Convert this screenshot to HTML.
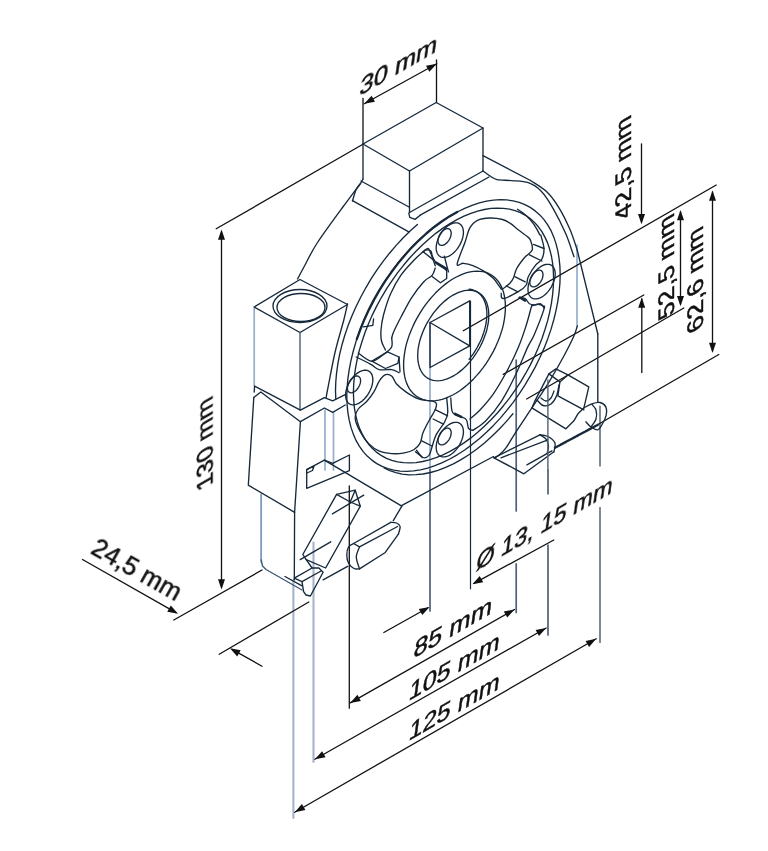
<!DOCTYPE html>
<html><head><meta charset="utf-8"><title>drawing</title>
<style>html,body{margin:0;padding:0;background:#fff}svg{display:block}
text{font-family:"Liberation Sans",sans-serif;text-rendering:geometricPrecision}
path{stroke-linecap:round;stroke-linejoin:round}</style></head>
<body><svg width="768" height="851" viewBox="0 0 768 851">
<rect width="768" height="851" fill="#fff"/>
<path d="M430.0,322.5 L430.0,470.0" stroke="#94aecb" stroke-width="1.7" fill="none"/>
<path d="M430.0,470.0 L430.0,611.0" stroke="#4f6078" stroke-width="1.7" fill="none"/>
<path d="M516.2,360.0 L516.2,511.0" stroke="#4f6078" stroke-width="1.7" fill="none"/>
<path d="M516.2,563.8 L516.2,612.5" stroke="#4f6078" stroke-width="1.7" fill="none"/>
<path d="M548.0,470.0 L548.0,493.8" stroke="#4f6078" stroke-width="1.7" fill="none"/>
<path d="M548.0,545.0 L548.0,635.0" stroke="#4f6078" stroke-width="1.7" fill="none"/>
<path d="M313.5,542.5 L313.5,762.0" stroke="#a7b3cb" stroke-width="2.1" fill="none"/>
<path d="M293.4,580.0 L293.4,818.0" stroke="#a7b3cb" stroke-width="2.1" fill="none"/>
<path d="M325.0,410.0 L325.0,470.0" stroke="#94aecb" stroke-width="1.7" fill="none"/>
<path d="M333.5,413.0 L333.5,470.0" stroke="#94aecb" stroke-width="1.7" fill="none"/>
<path d="M261.2,493.8 L261.2,562.5" stroke="#94aecb" stroke-width="1.7" fill="none"/>
<path d="M577.0,245.0 L577.0,326.0" stroke="#94aecb" stroke-width="1.7" fill="none"/>
<path d="M254.2,307.0 L254.2,385.5" stroke="#94aecb" stroke-width="1.7" fill="none"/>
<path d="M363.0,144.0 L363.0,98.5" stroke="#111" stroke-width="1.3" fill="none"/>
<path d="M436.5,102.5 L436.5,60.0" stroke="#111" stroke-width="1.3" fill="none"/>
<path d="M364.2,103.8 L436.8,63.8" stroke="#111" stroke-width="1.3" fill="none"/>
<path d="M364.2,103.8 L371.6,95.7 L375.0,101.8 Z" fill="#111" stroke="none"/>
<path d="M436.8,63.8 L429.4,71.8 L426.0,65.7 Z" fill="#111" stroke="none"/>
<path d="M216.2,228.8 L363.8,143.8" stroke="#111" stroke-width="1.3" fill="none"/>
<path d="M221.5,232.0 L221.5,587.0" stroke="#111" stroke-width="1.3" fill="none"/>
<path d="M221.5,229.5 L225.0,239.8 L218.0,239.8 Z" fill="#111" stroke="none"/>
<path d="M221.5,589.5 L218.0,579.2 L225.0,579.2 Z" fill="#111" stroke="none"/>
<path d="M173.8,620.0 L262.0,570.0" stroke="#111" stroke-width="1.3" fill="none"/>
<path d="M82.5,559.5 L176.0,612.6" stroke="#111" stroke-width="1.3" fill="none"/>
<path d="M178.0,613.8 L167.3,611.7 L170.8,605.6 Z" fill="#111" stroke="none"/>
<path d="M219.2,654.2 L308.8,602.0" stroke="#111" stroke-width="1.3" fill="none"/>
<path d="M232.0,649.4 L262.0,666.2" stroke="#111" stroke-width="1.3" fill="none"/>
<path d="M230.0,648.2 L240.7,650.3 L237.2,656.4 Z" fill="#111" stroke="none"/>
<path d="M383.8,632.5 L428.0,607.8" stroke="#111" stroke-width="1.3" fill="none"/>
<path d="M429.5,607.0 L422.3,615.1 L418.8,609.0 Z" fill="#111" stroke="none"/>
<path d="M553.8,540.0 L474.0,583.4" stroke="#111" stroke-width="1.3" fill="none"/>
<path d="M472.5,584.2 L479.7,576.1 L483.2,582.2 Z" fill="#111" stroke="none"/>
<path d="M470.5,301.0 L470.5,588.8" stroke="#16293b" stroke-width="1.2" fill="none"/>
<path d="M349.3,486.0 L349.3,708.2" stroke="#111" stroke-width="1.3" fill="none"/>
<path d="M350.2,702.9 L514.5,609.5" stroke="#111" stroke-width="1.3" fill="none"/>
<path d="M350.2,702.9 L357.4,694.8 L360.9,700.9 Z" fill="#111" stroke="none"/>
<path d="M514.5,609.5 L507.3,617.6 L503.8,611.5 Z" fill="#111" stroke="none"/>
<path d="M314.9,759.3 L546.2,628.0" stroke="#111" stroke-width="1.3" fill="none"/>
<path d="M314.9,759.3 L322.1,751.2 L325.6,757.3 Z" fill="#111" stroke="none"/>
<path d="M546.2,628.0 L539.0,636.1 L535.6,630.0 Z" fill="#111" stroke="none"/>
<path d="M294.7,812.2 L596.2,638.8" stroke="#111" stroke-width="1.3" fill="none"/>
<path d="M294.7,812.2 L301.9,804.0 L305.4,810.1 Z" fill="#111" stroke="none"/>
<path d="M596.2,638.8 L589.1,646.9 L585.6,640.9 Z" fill="#111" stroke="none"/>
<path d="M600.0,406.0 L600.0,466.0" stroke="#16293b" stroke-width="1.1" fill="none"/>
<path d="M600.0,507.5 L600.0,642.5" stroke="#16293b" stroke-width="1.1" fill="none"/>
<path d="M641.5,143.8 L641.5,222.0" stroke="#111" stroke-width="1.3" fill="none"/>
<path d="M641.5,224.2 L638.0,213.9 L645.0,213.9 Z" fill="#111" stroke="none"/>
<path d="M463.3,330.8 L716.2,185.0" stroke="#111" stroke-width="1.3" fill="none"/>
<path d="M680.5,212.0 L680.5,304.0" stroke="#111" stroke-width="1.3" fill="none"/>
<path d="M680.5,210.0 L684.0,220.3 L677.0,220.3 Z" fill="#111" stroke="none"/>
<path d="M680.5,306.2 L677.0,295.9 L684.0,295.9 Z" fill="#111" stroke="none"/>
<path d="M712.5,192.0 L712.5,351.0" stroke="#111" stroke-width="1.3" fill="none"/>
<path d="M712.5,190.5 L716.0,200.8 L709.0,200.8 Z" fill="#111" stroke="none"/>
<path d="M712.5,353.0 L709.0,342.7 L716.0,342.7 Z" fill="#111" stroke="none"/>
<path d="M503.3,374.4 L643.8,295.0" stroke="#111" stroke-width="1.3" fill="none"/>
<path d="M641.8,299.0 L641.8,372.5" stroke="#111" stroke-width="1.3" fill="none"/>
<path d="M641.8,297.5 L645.2,307.8 L638.2,307.8 Z" fill="#111" stroke="none"/>
<path d="M526.7,399.0 L683.8,308.0" stroke="#111" stroke-width="1.3" fill="none"/>
<path d="M598.0,424.5 L718.8,354.5" stroke="#111" stroke-width="1.3" fill="none"/>
<path d="M554.9,447.8 L597.8,424.8" stroke="#16293b" stroke-width="2.4" stroke-dasharray="1.1,1.1" stroke-linecap="butt" fill="none"/>
<path d="M363.0,144.0 L436.2,102.5 L483.0,128.0 L409.5,171.0 Z" stroke="#16293b" stroke-width="1.35" fill="none" />
<path d="M363.0,144.0 L363.0,179.0" stroke="#16293b" stroke-width="1.35" fill="none"/>
<path d="M409.5,171.0 L409.5,212.5" stroke="#16293b" stroke-width="1.35" fill="none"/>
<path d="M483.0,128.0 L483.0,171.0" stroke="#16293b" stroke-width="1.35" fill="none"/>
<path d="M409.5,212.5 L483.0,171.0" stroke="#16293b" stroke-width="1.35" fill="none"/>
<path d="M420.2,215.2 L489.0,177.0" stroke="#16293b" stroke-width="1.35" fill="none"/>
<path d="M363.0,179.0 L361.0,182.5" stroke="#16293b" stroke-width="1.35" fill="none" />
<path d="M361.0,181.0 L409.0,207.0" stroke="#16293b" stroke-width="1.35" fill="none"/>
<path d="M352.5,200.6 L408.8,231.9" stroke="#16293b" stroke-width="1.35" fill="none"/>
<path d="M408.8,213.1 L409.8,217.3 L415.0,219.4 L420.2,215.2" stroke="#16293b" stroke-width="1.35" fill="none" />
<path d="M361.0,183.0 C360.2,184.2 357.4,187.0 356.0,190.0 C354.6,193.0 353.1,199.2 352.5,201.0" stroke="#16293b" stroke-width="1.35" fill="none"/>
<path d="M360.0,184.0 C357.1,187.9 349.6,197.8 342.5,207.5 C335.4,217.2 323.8,232.9 317.5,242.5 C311.2,252.1 308.3,258.9 305.0,265.0 C301.7,271.1 298.8,276.7 297.5,279.0" stroke="#16293b" stroke-width="1.35" fill="none"/>
<path d="M483.0,155.6 L530.5,180.5" stroke="#16293b" stroke-width="1.35" fill="none"/>
<path d="M530.5,180.5 C533.2,182.4 542.1,187.3 547.0,192.0 C551.9,196.7 555.8,202.5 559.6,208.8 C563.4,215.0 567.0,222.7 570.0,229.6 C573.0,236.5 576.1,246.9 577.3,250.4" stroke="#16293b" stroke-width="1.35" fill="none"/>
<path d="M577.3,250.4 L597.8,334.0" stroke="#16293b" stroke-width="1.35" fill="none"/>
<path d="M597.8,334.0 L597.8,402.0" stroke="#16293b" stroke-width="1.35" fill="none"/>
<path d="M483.0,171.0 C484.3,171.9 488.5,175.1 490.8,176.5 C493.1,177.9 493.5,178.9 497.0,179.6 C500.5,180.3 506.5,180.1 511.7,180.6 C516.9,181.1 523.4,181.0 528.3,182.7 C533.2,184.4 536.8,186.7 541.0,191.0 C545.2,195.3 549.2,201.6 553.3,208.8 C557.4,215.9 562.3,225.8 565.8,233.8 C569.2,241.7 572.6,252.9 574.0,256.7" stroke="#16293b" stroke-width="1.35" fill="none"/>
<path d="M560.2,274.8 L559.9,283.4 L559.1,292.3 L557.8,301.3 L556.0,310.6 L553.7,320.0 L551.0,329.4 L547.7,338.9 L544.0,348.4 L539.8,357.8 L535.2,367.1 L530.2,376.2 L524.9,385.1 L519.2,393.8 L513.2,402.3 L506.8,410.3 L500.3,418.1 L493.5,425.4 L486.5,432.3 L479.3,438.7 L472.0,444.6 L464.7,450.0 L457.2,454.8 L449.8,459.0 L442.3,462.7 L435.0,465.7 L427.7,468.1 L420.5,469.8 L413.5,470.9 L406.7,471.3 L400.2,471.1 L393.8,470.2 L387.8,468.6 L382.1,466.4 L376.8,463.6 L371.8,460.1 L367.2,456.1 L363.0,451.4 L359.3,446.2 L356.0,440.4 L353.3,434.1 L351.0,427.4 L349.2,420.2 L347.9,412.6 L347.1,404.6 L346.8,396.2 L347.1,387.6 L347.9,378.7 L349.2,369.7 L351.0,360.4 L353.3,351.0 L356.0,341.6 L359.3,332.1 L363.0,322.6 L367.2,313.2 L371.8,303.9 L376.8,294.8 L382.1,285.9 L387.8,277.2 L393.8,268.7 L400.2,260.7 L406.7,252.9 L413.5,245.6 L420.5,238.7 L427.7,232.3 L435.0,226.4 L442.3,221.0 L449.8,216.2 L457.2,212.0 L464.7,208.3 L472.0,205.3 L479.3,202.9 L486.5,201.2 L493.5,200.1 L500.3,199.7 L506.8,199.9 L513.2,200.8 L519.2,202.4 L524.9,204.6 L530.2,207.4 L535.2,210.9 L539.8,214.9 L544.0,219.6 L547.7,224.8 L551.0,230.6 L553.7,236.9 L556.0,243.6 L557.8,250.8 L559.1,258.4 L559.9,266.4 L560.2,274.7 Z" stroke="#16293b" stroke-width="1.35" fill="none" />
<path d="M356.8,339.2 L360.4,329.3 L364.4,319.4 L368.9,309.6 L373.9,299.9 L379.3,290.4 L385.1,281.2 L391.3,272.3 L397.8,263.6 L404.6,255.4 L411.6,247.6 L418.9,240.3 L426.3,233.5 L433.9,227.2 L441.7,221.5 L449.4,216.4 L457.2,212.0" stroke="#16293b" stroke-width="2.3" fill="none" />
<path d="M363.4,326.9 L372.8,325.3 L373.6,319.0" stroke="#16293b" stroke-width="1.35" fill="none" />
<path d="M553.6,278.5 L553.3,286.6 L552.6,294.9 L551.4,303.4 L549.7,312.1 L547.6,320.9 L544.9,329.8 L541.9,338.7 L538.4,347.6 L534.5,356.4 L530.2,365.1 L525.5,373.7 L520.5,382.1 L515.1,390.2 L509.5,398.1 L503.5,405.7 L497.4,413.0 L491.0,419.8 L484.4,426.3 L477.7,432.3 L470.9,437.9 L464.0,442.9 L457.0,447.4 L450.0,451.4 L443.0,454.8 L436.1,457.7 L429.3,459.9 L422.6,461.5 L416.0,462.6 L409.6,462.9 L403.5,462.7 L397.5,461.9 L391.9,460.4 L386.5,458.4 L381.5,455.7 L376.8,452.4 L372.5,448.6 L368.6,444.2 L365.1,439.3 L362.1,433.9 L359.4,428.1 L357.3,421.7 L355.6,415.0 L354.4,407.8 L353.7,400.3 L353.4,392.5 L353.7,384.4 L354.4,376.1 L355.6,367.6 L357.3,358.9 L359.4,350.1 L362.1,341.2 L365.1,332.3 L368.6,323.4 L372.5,314.6 L376.8,305.9 L381.5,297.3 L386.5,288.9 L391.9,280.8 L397.5,272.9 L403.5,265.3 L409.6,258.0 L416.0,251.2 L422.6,244.7 L429.3,238.7 L436.1,233.1 L443.0,228.1 L450.0,223.6 L457.0,219.6 L464.0,216.2 L470.9,213.3 L477.7,211.1 L484.4,209.5 L491.0,208.4 L497.4,208.1 L503.5,208.3 L509.5,209.1 L515.1,210.6 L520.5,212.6 L525.5,215.3 L530.2,218.6 L534.5,222.4 L538.4,226.8 L541.9,231.7 L544.9,237.1 L547.6,242.9 L549.7,249.3 L551.4,256.0 L552.6,263.2 L553.3,270.7 L553.6,278.5 Z" stroke="#16293b" stroke-width="1.35" fill="none" />
<path d="M335.8,398.9 L335.5,390.5 L335.8,381.8 L336.6,372.8 L337.9,363.6 L339.7,354.2 L342.0,344.7 L344.8,335.2 L348.1,325.6 L351.9,316.0 L356.1,306.5 L360.8,297.0 L365.8,287.8 L371.2,278.7 L377.0,269.9 L383.1,261.4 L389.5,253.2 L396.2,245.4 L403.0,238.0 L410.1,231.0 L417.4,224.5" stroke="#16293b" stroke-width="1.35" fill="none" />
<path d="M517.5,209.3 L522.1,212.3 L526.4,215.8 L530.3,219.8 L533.9,224.4 L537.0,229.4 L539.8,234.9" stroke="#16293b" stroke-width="1.35" fill="none" />
<path d="M531.6,305.9 C532.7,305.6 536.1,304.3 538.0,304.3 C539.9,304.3 542.0,305.1 543.0,306.0 C544.0,306.9 545.4,304.5 543.9,309.4 C542.4,314.3 536.7,328.9 534.0,335.2 C531.3,341.4 530.8,340.4 527.8,346.9 C524.8,353.4 520.4,364.9 516.0,374.0 C511.6,383.1 506.3,393.8 501.2,401.6 C496.2,409.4 490.4,416.2 485.6,421.0 C480.8,425.8 474.9,428.8 472.7,430.4" stroke="#16293b" stroke-width="1.35" fill="none"/>
<path d="M435.2,268.1 C434.7,269.3 434.0,273.1 432.1,275.4 C430.2,277.7 427.2,277.9 423.8,281.7 C420.3,285.5 415.0,292.4 411.2,298.3 C407.5,304.2 403.9,311.6 401.0,317.0 C398.1,322.4 395.6,327.5 394.0,331.0 C392.4,334.5 392.1,336.8 391.7,338.0" stroke="#16293b" stroke-width="1.35" fill="none"/>
<path d="M531.6,305.9 C530.7,309.2 528.2,319.2 526.0,326.0 C523.8,332.8 521.7,339.4 518.5,346.9 C515.3,354.4 511.2,363.2 507.0,371.0 C502.8,378.8 497.9,387.2 493.4,393.8 C488.9,400.2 483.9,405.8 480.0,410.0 C476.1,414.2 471.7,417.5 470.0,419.0" stroke="#16293b" stroke-width="1.35" fill="none"/>
<path d="M505.4,307.0 L505.3,311.1 L504.9,315.4 L504.3,319.7 L503.5,324.1 L502.4,328.6 L501.0,333.1 L499.5,337.6 L497.7,342.1 L495.7,346.6 L493.5,351.1 L491.1,355.4 L488.6,359.7 L485.9,363.9 L483.0,367.9 L480.0,371.7 L476.8,375.4 L473.6,378.9 L470.2,382.2 L466.8,385.3 L463.3,388.1 L459.8,390.7 L456.3,393.0 L452.7,395.0 L449.2,396.7 L445.7,398.2 L442.2,399.3 L438.8,400.1 L435.4,400.6 L432.2,400.8 L429.0,400.7 L426.0,400.3 L423.1,399.6 L420.4,398.5 L417.9,397.2 L415.5,395.5 L413.3,393.6 L411.3,391.3 L409.5,388.8 L408.0,386.1 L406.6,383.1 L405.5,379.9 L404.7,376.4 L404.1,372.8 L403.7,369.0 L403.6,365.0 L403.7,360.9 L404.1,356.6 L404.7,352.3 L405.5,347.9 L406.6,343.4 L408.0,338.9 L409.5,334.4 L411.3,329.9 L413.3,325.4 L415.5,320.9 L417.9,316.6 L420.4,312.3 L423.1,308.1 L426.0,304.1 L429.0,300.3 L432.2,296.6 L435.4,293.1 L438.8,289.8 L442.2,286.7 L445.7,283.9 L449.2,281.3 L452.7,279.0 L456.3,277.0 L459.8,275.3 L463.3,273.8 L466.8,272.7 L470.2,271.9 L473.6,271.4 L476.8,271.2 L480.0,271.3 L483.0,271.7 L485.9,272.4 L488.6,273.5 L491.1,274.8 L493.5,276.5 L495.7,278.4 L497.7,280.7 L499.5,283.2 L501.0,285.9 L502.4,288.9 L503.5,292.1 L504.3,295.6 L504.9,299.2 L505.3,303.0 L505.4,307.0 Z" stroke="#16293b" stroke-width="1.35" fill="none" />
<path d="M488.8,315.2 L488.7,318.1 L488.5,321.1 L488.0,324.1 L487.4,327.2 L486.7,330.3 L485.7,333.5 L484.6,336.6 L483.4,339.8 L482.0,342.9 L480.5,346.0 L478.8,349.1 L477.0,352.0 L475.1,354.9 L473.1,357.8 L471.0,360.4 L468.8,363.0 L466.6,365.5 L464.2,367.8 L461.9,369.9 L459.4,371.9 L457.0,373.7 L454.5,375.3 L452.0,376.7 L449.5,377.9 L447.1,378.9 L444.6,379.7 L442.3,380.3 L439.9,380.6 L437.7,380.8 L435.5,380.7 L433.4,380.4 L431.4,379.9 L429.5,379.1 L427.7,378.2 L426.0,377.0 L424.5,375.7 L423.1,374.1 L421.9,372.4 L420.8,370.5 L419.8,368.4 L419.1,366.1 L418.5,363.7 L418.0,361.2 L417.8,358.5 L417.7,355.8 L417.8,352.9 L418.0,349.9 L418.5,346.9 L419.1,343.8 L419.8,340.7 L420.8,337.5 L421.9,334.4 L423.1,331.2 L424.5,328.1 L426.0,325.0 L427.7,321.9 L429.5,319.0 L431.4,316.1 L433.4,313.2 L435.5,310.6 L437.7,308.0 L439.9,305.5 L442.3,303.2 L444.6,301.1 L447.1,299.1 L449.5,297.3 L452.0,295.7 L454.5,294.3 L457.0,293.1 L459.4,292.1 L461.9,291.3 L464.2,290.7 L466.6,290.4 L468.8,290.2 L471.0,290.3 L473.1,290.6 L475.1,291.1 L477.0,291.9 L478.8,292.8 L480.5,294.0 L482.0,295.3 L483.4,296.9 L484.6,298.6 L485.7,300.5 L486.7,302.6 L487.4,304.9 L488.0,307.3 L488.5,309.8 L488.7,312.5 L488.8,315.2 Z" stroke="#16293b" stroke-width="1.35" fill="none" />
<path d="M469.1,289.2 L471.2,289.5 L473.2,290.0 L475.1,290.8 L476.9,291.7 L478.5,292.9 L480.1,294.2 L481.5,295.8 L482.7,297.5 L483.8,299.4 L484.7,301.5 L485.5,303.8 L486.1,306.2 L486.5,308.7 L486.8,311.4 L486.9,314.1 L486.8,317.0 L486.5,320.0 L486.1,323.0 L485.5,326.1 L484.7,329.2 L483.8,332.4 L482.7,335.5 L481.5,338.7 L480.1,341.8 L478.5,344.9 L476.9,348.0 L475.1,350.9 L473.2,353.8 L471.2,356.7 L469.1,359.3" stroke="#16293b" stroke-width="1.35" fill="none" />
<path d="M430.0,322.5 L469.7,300.8 L469.7,345.8 L430.0,367.5 Z" stroke="#16293b" stroke-width="1.35" fill="none" />
<path d="M430.0,322.5 L469.7,345.8" stroke="#16293b" stroke-width="1.35" fill="none"/>
<path d="M300.0,279.5 L254.2,307.0 L300.0,332.5 L347.5,304.5 Z" stroke="#16293b" stroke-width="1.35" fill="none" />
<path d="M300.0,332.5 L300.0,410.0" stroke="#3d5874" stroke-width="1.35" fill="none"/>
<ellipse cx="300" cy="306" rx="27" ry="16.5" stroke="#16293b" stroke-width="1.35" fill="none"/>
<ellipse cx="301" cy="307.5" rx="24" ry="14" stroke="#16293b" stroke-width="1.35" fill="none"/>
<path d="M347.5,303.8 C346.9,306.5 345.8,311.9 343.8,320.0 C341.7,328.1 337.7,340.8 335.0,352.5 C332.3,364.2 329.0,382.5 327.5,390.0 C326.0,397.5 326.5,396.2 326.2,397.5" stroke="#16293b" stroke-width="1.35" fill="none"/>
<path d="M463.4,232.3 L463.4,233.5 L463.3,234.6 L463.1,235.7 L462.9,236.9 L462.6,238.1 L462.2,239.3 L461.8,240.5 L461.3,241.7 L460.8,242.9 L460.2,244.1 L459.6,245.3 L458.9,246.4 L458.2,247.5 L457.4,248.6 L456.6,249.6 L455.8,250.6 L454.9,251.6 L454.0,252.4 L453.1,253.3 L452.2,254.0 L451.2,254.7 L450.3,255.3 L449.3,255.9 L448.4,256.3 L447.4,256.7 L446.5,257.0 L445.6,257.2 L444.7,257.4 L443.8,257.4 L443.0,257.4 L442.2,257.3 L441.4,257.1 L440.7,256.8 L440.0,256.4 L439.4,256.0 L438.8,255.5 L438.3,254.9 L437.8,254.2 L437.4,253.5 L437.0,252.7 L436.7,251.8 L436.5,250.9 L436.3,249.9 L436.2,248.9 L436.2,247.8 L436.2,246.7 L436.3,245.6 L436.5,244.5 L436.7,243.3 L437.0,242.1 L437.4,240.9 L437.8,239.7 L438.3,238.5 L438.8,237.3 L439.4,236.1 L440.0,234.9 L440.7,233.8 L441.4,232.7 L442.2,231.6 L443.0,230.6 L443.8,229.6 L444.7,228.6 L445.6,227.8 L446.5,226.9 L447.4,226.2 L448.4,225.5 L449.3,224.9 L450.3,224.3 L451.2,223.9 L452.2,223.5 L453.1,223.2 L454.0,223.0 L454.9,222.8 L455.8,222.8 L456.6,222.8 L457.4,222.9 L458.2,223.1 L458.9,223.4 L459.6,223.8 L460.2,224.2 L460.8,224.7 L461.3,225.3 L461.8,226.0 L462.2,226.7 L462.6,227.5 L462.9,228.4 L463.1,229.3 L463.3,230.3 L463.4,231.3 L463.4,232.3 Z" stroke="#16293b" stroke-width="1.35" fill="none" />
<path d="M451.2,233.2 L451.2,233.8 L451.1,234.3 L451.0,234.9 L450.9,235.5 L450.8,236.0 L450.6,236.6 L450.4,237.2 L450.2,237.8 L449.9,238.4 L449.6,238.9 L449.3,239.5 L449.0,240.1 L448.7,240.6 L448.3,241.1 L447.9,241.6 L447.5,242.1 L447.1,242.5 L446.6,243.0 L446.2,243.4 L445.7,243.7 L445.3,244.1 L444.8,244.4 L444.4,244.6 L443.9,244.9 L443.5,245.0 L443.0,245.2 L442.6,245.3 L442.1,245.4 L441.7,245.4 L441.3,245.4 L440.9,245.3 L440.5,245.2 L440.2,245.1 L439.9,244.9 L439.6,244.7 L439.3,244.4 L439.0,244.2 L438.8,243.8 L438.6,243.5 L438.4,243.1 L438.3,242.7 L438.2,242.2 L438.1,241.8 L438.0,241.3 L438.0,240.8 L438.0,240.2 L438.1,239.7 L438.2,239.1 L438.3,238.5 L438.4,238.0 L438.6,237.4 L438.8,236.8 L439.0,236.2 L439.3,235.6 L439.6,235.1 L439.9,234.5 L440.2,233.9 L440.5,233.4 L440.9,232.9 L441.3,232.4 L441.7,231.9 L442.1,231.5 L442.6,231.0 L443.0,230.6 L443.5,230.3 L443.9,229.9 L444.4,229.6 L444.8,229.4 L445.3,229.1 L445.7,229.0 L446.2,228.8 L446.6,228.7 L447.1,228.6 L447.5,228.6 L447.9,228.6 L448.3,228.7 L448.7,228.8 L449.0,228.9 L449.3,229.1 L449.6,229.3 L449.9,229.6 L450.2,229.8 L450.4,230.2 L450.6,230.5 L450.8,230.9 L450.9,231.3 L451.0,231.8 L451.1,232.2 L451.2,232.7 L451.2,233.2 Z" stroke="#16293b" stroke-width="1.35" fill="none" />
<path d="M555.2,273.9 L555.2,275.0 L555.1,276.1 L554.9,277.2 L554.7,278.4 L554.4,279.6 L554.0,280.8 L553.6,282.0 L553.1,283.2 L552.6,284.4 L552.0,285.6 L551.4,286.8 L550.7,287.9 L550.0,289.0 L549.2,290.1 L548.4,291.1 L547.6,292.1 L546.7,293.1 L545.8,293.9 L544.9,294.8 L544.0,295.5 L543.0,296.2 L542.1,296.8 L541.1,297.4 L540.2,297.8 L539.2,298.2 L538.3,298.5 L537.4,298.7 L536.5,298.9 L535.6,298.9 L534.8,298.9 L534.0,298.8 L533.2,298.6 L532.5,298.3 L531.8,297.9 L531.2,297.5 L530.6,297.0 L530.1,296.4 L529.6,295.7 L529.2,295.0 L528.8,294.2 L528.5,293.3 L528.3,292.4 L528.1,291.4 L528.0,290.4 L528.0,289.4 L528.0,288.2 L528.1,287.1 L528.3,286.0 L528.5,284.8 L528.8,283.6 L529.2,282.4 L529.6,281.2 L530.1,280.0 L530.6,278.8 L531.2,277.6 L531.8,276.4 L532.5,275.3 L533.2,274.2 L534.0,273.1 L534.8,272.1 L535.6,271.1 L536.5,270.1 L537.4,269.3 L538.3,268.4 L539.2,267.7 L540.2,267.0 L541.1,266.4 L542.1,265.8 L543.0,265.4 L544.0,265.0 L544.9,264.7 L545.8,264.5 L546.7,264.3 L547.6,264.3 L548.4,264.3 L549.2,264.4 L550.0,264.6 L550.7,264.9 L551.4,265.3 L552.0,265.7 L552.6,266.2 L553.1,266.8 L553.6,267.5 L554.0,268.2 L554.4,269.0 L554.7,269.9 L554.9,270.8 L555.1,271.8 L555.2,272.8 L555.2,273.9 Z" stroke="#16293b" stroke-width="1.35" fill="none" />
<path d="M543.0,274.8 L543.0,275.3 L542.9,275.8 L542.8,276.4 L542.7,277.0 L542.6,277.5 L542.4,278.1 L542.2,278.7 L542.0,279.3 L541.7,279.9 L541.4,280.4 L541.1,281.0 L540.8,281.6 L540.5,282.1 L540.1,282.6 L539.7,283.1 L539.3,283.6 L538.9,284.0 L538.4,284.5 L538.0,284.9 L537.5,285.2 L537.1,285.6 L536.6,285.9 L536.2,286.1 L535.7,286.4 L535.3,286.5 L534.8,286.7 L534.4,286.8 L533.9,286.9 L533.5,286.9 L533.1,286.9 L532.7,286.8 L532.3,286.7 L532.0,286.6 L531.7,286.4 L531.4,286.2 L531.1,285.9 L530.8,285.7 L530.6,285.3 L530.4,285.0 L530.2,284.6 L530.1,284.2 L530.0,283.7 L529.9,283.3 L529.8,282.8 L529.8,282.2 L529.8,281.7 L529.9,281.2 L530.0,280.6 L530.1,280.0 L530.2,279.5 L530.4,278.9 L530.6,278.3 L530.8,277.7 L531.1,277.1 L531.4,276.6 L531.7,276.0 L532.0,275.4 L532.3,274.9 L532.7,274.4 L533.1,273.9 L533.5,273.4 L533.9,273.0 L534.4,272.5 L534.8,272.1 L535.3,271.8 L535.7,271.4 L536.2,271.1 L536.6,270.9 L537.1,270.6 L537.5,270.5 L538.0,270.3 L538.4,270.2 L538.9,270.1 L539.3,270.1 L539.7,270.1 L540.1,270.2 L540.5,270.3 L540.8,270.4 L541.1,270.6 L541.4,270.8 L541.7,271.1 L542.0,271.3 L542.2,271.7 L542.4,272.0 L542.6,272.4 L542.7,272.8 L542.8,273.3 L542.9,273.7 L543.0,274.2 L543.0,274.8 Z" stroke="#16293b" stroke-width="1.35" fill="none" />
<path d="M463.4,431.9 L463.4,433.0 L463.3,434.1 L463.1,435.2 L462.9,436.4 L462.6,437.6 L462.2,438.8 L461.8,440.0 L461.3,441.2 L460.8,442.4 L460.2,443.6 L459.6,444.8 L458.9,445.9 L458.2,447.0 L457.4,448.1 L456.6,449.1 L455.8,450.1 L454.9,451.1 L454.0,451.9 L453.1,452.8 L452.2,453.5 L451.2,454.2 L450.3,454.8 L449.3,455.4 L448.4,455.8 L447.4,456.2 L446.5,456.5 L445.6,456.7 L444.7,456.9 L443.8,456.9 L443.0,456.9 L442.2,456.8 L441.4,456.6 L440.7,456.3 L440.0,455.9 L439.4,455.5 L438.8,455.0 L438.3,454.4 L437.8,453.7 L437.4,453.0 L437.0,452.2 L436.7,451.3 L436.5,450.4 L436.3,449.4 L436.2,448.4 L436.2,447.4 L436.2,446.2 L436.3,445.1 L436.5,444.0 L436.7,442.8 L437.0,441.6 L437.4,440.4 L437.8,439.2 L438.3,438.0 L438.8,436.8 L439.4,435.6 L440.0,434.4 L440.7,433.3 L441.4,432.2 L442.2,431.1 L443.0,430.1 L443.8,429.1 L444.7,428.1 L445.6,427.3 L446.5,426.4 L447.4,425.7 L448.4,425.0 L449.3,424.4 L450.3,423.8 L451.2,423.4 L452.2,423.0 L453.1,422.7 L454.0,422.5 L454.9,422.3 L455.8,422.3 L456.6,422.3 L457.4,422.4 L458.2,422.6 L458.9,422.9 L459.6,423.3 L460.2,423.7 L460.8,424.2 L461.3,424.8 L461.8,425.5 L462.2,426.2 L462.6,427.0 L462.9,427.9 L463.1,428.8 L463.3,429.8 L463.4,430.8 L463.4,431.9 Z" stroke="#16293b" stroke-width="1.35" fill="none" />
<path d="M451.2,432.8 L451.2,433.3 L451.1,433.8 L451.0,434.4 L450.9,435.0 L450.8,435.5 L450.6,436.1 L450.4,436.7 L450.2,437.3 L449.9,437.9 L449.6,438.4 L449.3,439.0 L449.0,439.6 L448.7,440.1 L448.3,440.6 L447.9,441.1 L447.5,441.6 L447.1,442.0 L446.6,442.5 L446.2,442.9 L445.7,443.2 L445.3,443.6 L444.8,443.9 L444.4,444.1 L443.9,444.4 L443.5,444.5 L443.0,444.7 L442.6,444.8 L442.1,444.9 L441.7,444.9 L441.3,444.9 L440.9,444.8 L440.5,444.7 L440.2,444.6 L439.9,444.4 L439.6,444.2 L439.3,443.9 L439.0,443.7 L438.8,443.3 L438.6,443.0 L438.4,442.6 L438.3,442.2 L438.2,441.7 L438.1,441.3 L438.0,440.8 L438.0,440.2 L438.0,439.7 L438.1,439.2 L438.2,438.6 L438.3,438.0 L438.4,437.5 L438.6,436.9 L438.8,436.3 L439.0,435.7 L439.3,435.1 L439.6,434.6 L439.9,434.0 L440.2,433.4 L440.5,432.9 L440.9,432.4 L441.3,431.9 L441.7,431.4 L442.1,431.0 L442.6,430.5 L443.0,430.1 L443.5,429.8 L443.9,429.4 L444.4,429.1 L444.8,428.9 L445.3,428.6 L445.7,428.5 L446.2,428.3 L446.6,428.2 L447.1,428.1 L447.5,428.1 L447.9,428.1 L448.3,428.2 L448.7,428.3 L449.0,428.4 L449.3,428.6 L449.6,428.8 L449.9,429.1 L450.2,429.3 L450.4,429.7 L450.6,430.0 L450.8,430.4 L450.9,430.8 L451.0,431.3 L451.1,431.7 L451.2,432.2 L451.2,432.8 Z" stroke="#16293b" stroke-width="1.35" fill="none" />
<path d="M372.8,379.8 L372.8,380.9 L372.7,382.0 L372.5,383.1 L372.3,384.3 L372.0,385.5 L371.6,386.7 L371.2,387.9 L370.7,389.1 L370.2,390.3 L369.6,391.5 L369.0,392.7 L368.3,393.8 L367.6,394.9 L366.8,396.0 L366.0,397.0 L365.2,398.0 L364.3,399.0 L363.4,399.8 L362.5,400.7 L361.6,401.4 L360.6,402.1 L359.7,402.7 L358.7,403.3 L357.8,403.7 L356.8,404.1 L355.9,404.4 L355.0,404.6 L354.1,404.8 L353.2,404.8 L352.4,404.8 L351.6,404.7 L350.8,404.5 L350.1,404.2 L349.4,403.8 L348.8,403.4 L348.2,402.9 L347.7,402.3 L347.2,401.6 L346.8,400.9 L346.4,400.1 L346.1,399.2 L345.9,398.3 L345.7,397.3 L345.6,396.3 L345.6,395.2 L345.6,394.1 L345.7,393.0 L345.9,391.9 L346.1,390.7 L346.4,389.5 L346.8,388.3 L347.2,387.1 L347.7,385.9 L348.2,384.7 L348.8,383.5 L349.4,382.3 L350.1,381.2 L350.8,380.1 L351.6,379.0 L352.4,378.0 L353.2,377.0 L354.1,376.0 L355.0,375.2 L355.9,374.3 L356.8,373.6 L357.8,372.9 L358.7,372.3 L359.7,371.7 L360.6,371.3 L361.6,370.9 L362.5,370.6 L363.4,370.4 L364.3,370.2 L365.2,370.2 L366.0,370.2 L366.8,370.3 L367.6,370.5 L368.3,370.8 L369.0,371.2 L369.6,371.6 L370.2,372.1 L370.7,372.7 L371.2,373.4 L371.6,374.1 L372.0,374.9 L372.3,375.8 L372.5,376.7 L372.7,377.7 L372.8,378.7 L372.8,379.8 Z" stroke="#16293b" stroke-width="1.35" fill="none" />
<path d="M360.6,380.6 L360.6,381.2 L360.5,381.7 L360.4,382.3 L360.3,382.9 L360.2,383.4 L360.0,384.0 L359.8,384.6 L359.6,385.2 L359.3,385.8 L359.0,386.3 L358.7,386.9 L358.4,387.5 L358.1,388.0 L357.7,388.5 L357.3,389.0 L356.9,389.5 L356.5,389.9 L356.0,390.4 L355.6,390.8 L355.1,391.1 L354.7,391.5 L354.2,391.8 L353.8,392.0 L353.3,392.3 L352.9,392.4 L352.4,392.6 L352.0,392.7 L351.5,392.8 L351.1,392.8 L350.7,392.8 L350.3,392.7 L349.9,392.6 L349.6,392.5 L349.3,392.3 L349.0,392.1 L348.7,391.8 L348.4,391.6 L348.2,391.2 L348.0,390.9 L347.8,390.5 L347.7,390.1 L347.6,389.6 L347.5,389.2 L347.4,388.7 L347.4,388.1 L347.4,387.6 L347.5,387.1 L347.6,386.5 L347.7,385.9 L347.8,385.4 L348.0,384.8 L348.2,384.2 L348.4,383.6 L348.7,383.0 L349.0,382.5 L349.3,381.9 L349.6,381.3 L349.9,380.8 L350.3,380.3 L350.7,379.8 L351.1,379.3 L351.5,378.9 L352.0,378.4 L352.4,378.0 L352.9,377.7 L353.3,377.3 L353.8,377.0 L354.2,376.8 L354.7,376.5 L355.1,376.4 L355.6,376.2 L356.0,376.1 L356.5,376.0 L356.9,376.0 L357.3,376.0 L357.7,376.1 L358.1,376.2 L358.4,376.3 L358.7,376.5 L359.0,376.7 L359.3,377.0 L359.6,377.2 L359.8,377.6 L360.0,377.9 L360.2,378.3 L360.3,378.7 L360.4,379.2 L360.5,379.6 L360.6,380.1 L360.6,380.6 Z" stroke="#16293b" stroke-width="1.35" fill="none" />
<path d="M457.2,264.0 C457.5,260.5 462.9,248.2 465.0,242.2 C467.1,236.2 467.6,231.8 469.7,228.1 C471.8,224.4 474.1,222.0 477.5,220.3 C480.9,218.6 485.8,218.1 490.0,218.0 C494.2,217.9 499.1,218.6 502.5,219.5 C505.9,220.4 507.7,221.7 510.3,223.4 C512.9,225.1 515.2,227.5 518.1,229.7 C521.0,231.9 525.4,234.9 527.5,236.7 C529.6,238.5 529.8,238.4 530.6,240.6 C531.4,242.8 533.2,247.1 532.2,250.0 C531.2,252.9 527.0,254.7 524.4,257.8 C521.8,260.9 518.4,265.4 516.6,268.8 C514.8,272.1 514.4,275.8 513.4,278.1 C512.4,280.4 512.1,281.0 510.3,282.8 C508.5,284.6 504.2,288.2 502.5,289.0 C500.8,289.8 501.8,289.3 500.2,287.5 C498.6,285.7 495.8,280.8 493.1,278.1 C490.4,275.4 487.1,273.2 483.8,271.1 C480.4,269.0 476.2,266.9 472.8,265.6 C469.4,264.3 466.0,263.6 463.4,263.3 C460.8,263.0 456.9,267.5 457.2,264.0 Z" stroke="#16293b" stroke-width="1.35" fill="none"/>
<path d="M391.9,376.2 C393.7,377.8 394.3,381.4 396.6,384.0 C398.9,386.6 402.3,389.4 405.9,391.9 C409.5,394.4 414.0,397.3 418.4,398.9 C422.8,400.5 429.5,400.5 432.5,401.2 C435.5,402.0 436.0,402.0 436.4,403.6 C436.8,405.2 436.0,407.9 434.8,410.6 C433.6,413.3 431.3,416.4 429.4,420.0 C427.4,423.6 424.7,428.6 423.1,432.5 C421.5,436.4 421.6,440.5 420.0,443.4 C418.4,446.3 416.4,448.1 413.8,449.7 C411.1,451.3 408.0,452.1 404.4,452.8 C400.8,453.5 396.1,453.9 391.9,453.6 C387.7,453.3 383.3,452.9 379.4,451.2 C375.5,449.6 371.7,446.8 368.4,443.4 C365.1,440.0 362.0,435.1 359.8,430.9 C357.6,426.7 355.4,422.0 355.2,418.4 C354.9,414.8 356.4,411.9 358.3,409.0 C360.2,406.1 364.3,404.1 366.9,401.2 C369.5,398.4 371.8,395.3 373.9,391.9 C376.0,388.5 377.4,383.8 379.4,380.9 C381.3,378.0 383.5,375.5 385.6,374.7 C387.7,373.9 390.1,374.7 391.9,376.2 Z" stroke="#16293b" stroke-width="1.35" fill="none"/>
<path d="M422.7,252.0 C421.3,253.3 418.0,255.9 414.4,259.8 C410.8,263.7 404.8,269.7 400.8,275.4 C396.8,281.1 393.3,287.6 390.4,294.2 C387.5,300.8 385.1,309.0 383.5,315.0 C381.9,321.0 381.3,325.7 381.0,330.0 C380.7,334.3 380.8,337.7 381.5,341.0 C382.2,344.3 384.8,348.5 385.4,350.0" stroke="#16293b" stroke-width="1.35" fill="none"/>
<path d="M422.8,251.9 C423.7,251.3 426.6,248.2 428.0,248.5 C429.4,248.8 429.8,251.1 431.0,254.0 C432.2,256.9 434.6,263.9 435.3,265.9" stroke="#16293b" stroke-width="1.35" fill="none"/>
<path d="M254.6,386.2 L300.4,410.2 L324.4,397.7 L332.7,400.8 L345.2,394.6" stroke="#16293b" stroke-width="1.35" fill="none" />
<path d="M253.8,397.5 L260.8,392.0 L300.4,421.7 L324.4,408.0 L332.7,412.3 L345.2,405.0" stroke="#16293b" stroke-width="1.35" fill="none" />
<path d="M254.6,386.2 L254.2,392.0" stroke="#16293b" stroke-width="1.35" fill="none" />
<path d="M253.8,397.5 L248.3,485.2 L294.6,512.3" stroke="#16293b" stroke-width="1.35" fill="none" />
<path d="M300.4,421.7 L294.6,512.3 L294.3,579.9" stroke="#16293b" stroke-width="1.35" fill="none" />
<path d="M261.2,495.0 L261.2,560.0" stroke="#7f9bbd" stroke-width="1.5" fill="none"/>
<path d="M261.2,560.0 L262.5,566.0 L266.0,569.5 L302.0,590.0" stroke="#3d5874" stroke-width="1.35" fill="none" />
<path d="M285.0,576.5 L302.0,585.8" stroke="#16293b" stroke-width="1.35" fill="none" />
<path d="M306.7,469.6 L324.4,460.2 L332.7,463.3 L349.4,455.0 L349.4,470.6 L306.7,488.3 Z" stroke="#16293b" stroke-width="1.35" fill="none" />
<path d="M306.7,469.6 L314.0,466.0 L312.5,470.5 L307.0,473.0" stroke="#16293b" stroke-width="1.35" fill="none" />
<path d="M324.4,460.2 L401.8,506.2" stroke="#16293b" stroke-width="1.35" fill="none" />
<path d="M401.8,506.2 L393.3,520.6" stroke="#16293b" stroke-width="1.35" fill="none" />
<path d="M336.6,494.4 L355.2,490.2 L360.3,506.2 L325.6,568.0 L306.2,559.6 L302.8,554.5 Z" stroke="#16293b" stroke-width="1.35" fill="none" />
<path d="M336.6,494.4 L350.2,502.0 L360.3,506.2" stroke="#16293b" stroke-width="1.35" fill="none" />
<path d="M350.2,502.0 L355.2,490.2" stroke="#16293b" stroke-width="1.35" fill="none" />
<path d="M332.4,513.9 L363.7,495.2" stroke="#16293b" stroke-width="1.35" fill="none"/>
<path d="M300.2,559.6 L330.7,541.8" stroke="#16293b" stroke-width="1.35" fill="none"/>
<path d="M294.3,578.2 L312.1,568.0 L318.9,568.0 L323.1,572.2 L310.4,596.0 L306.0,595.0 L303.6,591.7 L302.0,581.6 Z" stroke="#16293b" stroke-width="1.35" fill="none" />
<path d="M302.0,581.6 L321.0,571.0" stroke="#16293b" stroke-width="1.35" fill="none" />
<path d="M306.2,559.6 L312.1,568.0" stroke="#16293b" stroke-width="1.35" fill="none" />
<path d="M323.1,579.9 L347.6,566.3" stroke="#16293b" stroke-width="1.35" fill="none"/>
<path d="M353.6,543.5 C352.8,544.1 349.6,545.1 348.5,547.0 C347.4,548.9 346.8,552.3 346.8,555.0 C346.8,557.7 347.3,560.8 348.5,563.0 C349.7,565.2 352.2,567.5 354.0,568.5 C355.8,569.5 358.6,568.8 359.5,568.9" stroke="#16293b" stroke-width="1.35" fill="none"/>
<path d="M353.6,543.5 L390.8,522.3" stroke="#16293b" stroke-width="1.35" fill="none" />
<path d="M390.8,522.3 C391.8,522.4 394.9,522.3 396.5,523.0 C398.1,523.7 399.8,524.6 400.1,526.5 C400.4,528.4 398.7,532.9 398.4,534.2" stroke="#16293b" stroke-width="1.35" fill="none"/>
<path d="M398.4,534.2 L384.9,552.8 L359.5,568.9" stroke="#16293b" stroke-width="1.35" fill="none" />
<path d="M353.6,543.5 L359.5,546.9 L397.6,526.5" stroke="#16293b" stroke-width="1.35" fill="none" />
<path d="M359.5,546.9 C359.0,548.6 356.3,553.3 356.3,557.0 C356.3,560.7 359.0,566.9 359.5,568.9" stroke="#16293b" stroke-width="1.35" fill="none"/>
<path d="M577.3,326.0 C576.7,327.7 576.1,331.0 573.9,336.0 C571.7,341.0 568.2,348.0 563.9,356.0 C559.6,364.0 553.2,375.2 547.9,383.9 C542.6,392.5 537.2,399.9 531.9,407.9 C526.6,415.9 520.3,425.1 516.0,431.8 C511.7,438.5 509.0,443.8 506.0,447.8 C503.0,451.8 500.0,454.1 498.0,455.8 C496.0,457.5 494.7,457.5 494.0,457.8" stroke="#16293b" stroke-width="1.35" fill="none"/>
<path d="M401.9,505.4 L493.5,456.5" stroke="#16293b" stroke-width="1.35" fill="none"/>
<path d="M494.0,457.8 L539.9,434.8" stroke="#16293b" stroke-width="1.35" fill="none" />
<path d="M539.9,434.8 C541.2,435.1 545.4,435.2 547.9,436.5 C550.4,437.8 553.9,440.2 554.9,442.8 C555.9,445.4 554.1,450.3 553.9,451.8" stroke="#16293b" stroke-width="1.35" fill="none"/>
<path d="M553.9,451.8 L523.9,473.8 L494.0,457.8" stroke="#16293b" stroke-width="1.35" fill="none" />
<path d="M501.0,457.8 L547.9,439.8" stroke="#16293b" stroke-width="1.35" fill="none" />
<path d="M526.9,464.8 L551.9,450.8" stroke="#16293b" stroke-width="1.35" fill="none" />
<path d="M539.9,434.8 C540.9,435.5 544.6,437.1 546.0,439.0 C547.4,440.9 548.3,443.5 548.5,446.0 C548.7,448.5 547.2,452.7 547.0,454.0" stroke="#16293b" stroke-width="1.35" fill="none"/>
<path d="M548.9,373.9 L555.9,368.9 L567.9,374.9 L588.8,386.9 L583.9,407.9 L577.9,413.8 L573.9,420.8 L565.9,428.8 L531.9,407.9 L534.9,400.9 Z" stroke="#16293b" stroke-width="1.35" fill="none" />
<path d="M567.9,374.9 L559.9,381.9 L548.9,373.9" stroke="#16293b" stroke-width="1.35" fill="none" />
<path d="M559.9,381.9 L557.9,395.9 L583.9,409.9" stroke="#16293b" stroke-width="1.35" fill="none" />
<path d="M537.0,400.0 C538.0,400.9 540.7,404.8 543.0,405.5 C545.3,406.2 548.8,405.6 551.0,404.0 C553.2,402.4 555.2,399.2 556.5,396.0 C557.8,392.8 558.6,386.8 559.0,385.0" stroke="#16293b" stroke-width="1.35" fill="none"/>
<path d="M541.0,398.0 C541.8,398.5 544.3,401.0 546.0,401.0 C547.7,401.0 549.7,399.7 551.0,398.0 C552.3,396.3 553.5,392.2 554.0,391.0" stroke="#16293b" stroke-width="1.35" fill="none"/>
<path d="M547.9,380.0 L547.9,470.0" stroke="#4f6078" stroke-width="1.4" fill="none"/>
<path d="M583.9,407.9 C585.2,407.2 589.1,404.8 591.8,403.9 C594.5,403.0 597.7,402.0 600.0,402.5 C602.3,403.0 604.8,404.7 605.8,406.9 C606.8,409.1 606.7,412.9 606.0,415.9 C605.3,418.9 603.2,422.7 601.8,425.0 C600.4,427.3 599.6,429.5 597.8,429.8 C596.0,430.1 593.0,428.3 591.0,427.0 C589.0,425.7 586.8,422.7 585.9,421.8" stroke="#16293b" stroke-width="1.35" fill="none"/>
<path d="M592.0,404.5 C592.7,405.4 595.3,407.6 596.0,410.0 C596.7,412.4 596.8,416.2 596.0,419.0 C595.2,421.8 591.8,425.7 591.0,427.0" stroke="#16293b" stroke-width="1.35" fill="none"/>
<path d="M356.2,357.0 C358.7,358.2 367.0,362.3 370.8,364.4 C374.6,366.5 375.7,368.7 379.2,369.6 C382.7,370.5 388.4,369.1 391.7,369.6 C395.0,370.1 397.8,372.2 399.0,372.7" stroke="#16293b" stroke-width="1.35" fill="none"/>
<path d="M358.3,353.0 C360.6,354.4 367.4,361.2 371.9,361.2 C376.4,361.2 382.1,355.4 385.4,353.0 C388.7,350.6 390.6,349.2 391.7,346.7 C392.8,344.2 391.7,339.4 391.7,338.0" stroke="#16293b" stroke-width="1.35" fill="none"/>
<path d="M371.9,361.2 L387.5,351.9 L399.0,357.0 L397.9,363.3 L385.4,368.5 Z" stroke="#16293b" stroke-width="1.35" fill="none" />
<path d="M399.0,357.0 L400.0,371.7" stroke="#16293b" stroke-width="1.35" fill="none" />
<path d="M444.4,256.2 C444.8,257.6 445.8,262.0 446.5,264.6 C447.2,267.2 448.2,270.7 448.5,271.9" stroke="#16293b" stroke-width="1.35" fill="none"/>
<path d="M423.5,252.0 C423.9,251.7 424.4,250.2 425.6,250.0 C426.8,249.8 429.7,250.0 430.8,251.0 C431.9,252.0 431.5,254.3 432.4,256.2 C433.3,258.2 434.0,260.6 436.0,262.5 C438.0,264.4 442.6,266.3 444.4,267.7 C446.1,269.1 446.1,270.3 446.5,270.8" stroke="#16293b" stroke-width="1.35" fill="none"/>
<path d="M423.5,252.0 L434.0,260.4" stroke="#16293b" stroke-width="1.35" fill="none" />
<path d="M436.0,262.5 L446.5,268.8" stroke="#16293b" stroke-width="2.4" fill="none" />
<path d="M540.8,235.0 C541.3,237.2 543.8,244.5 544.0,248.5 C544.1,252.5 543.3,256.2 541.9,259.0 C540.5,261.8 537.9,262.2 535.6,265.2 C533.3,268.1 529.9,273.4 528.3,276.7 C526.7,280.0 527.8,282.6 526.2,285.0 C524.7,287.4 522.8,289.0 519.0,291.2 C515.2,293.5 506.3,298.2 503.3,298.5 C500.3,298.8 501.6,294.2 501.2,293.3" stroke="#16293b" stroke-width="1.35" fill="none"/>
<path d="M533.5,244.4 L544.0,248.5" stroke="#16293b" stroke-width="1.35" fill="none" />
<path d="M529.4,254.8 L541.9,261.0" stroke="#16293b" stroke-width="1.35" fill="none" />
<path d="M514.8,276.7 L525.2,281.9" stroke="#16293b" stroke-width="1.35" fill="none" />
<path d="M506.5,286.0 L517.9,291.8" stroke="#16293b" stroke-width="1.35" fill="none" />
<path d="M519.0,297.5 C520.0,297.7 523.5,297.5 525.2,298.5 C526.9,299.5 527.8,302.7 529.4,303.8 C531.0,304.8 532.7,304.8 534.6,304.8 C536.5,304.8 539.2,303.2 540.8,303.8 C542.4,304.3 543.5,307.3 544.0,308.0" stroke="#16293b" stroke-width="1.35" fill="none"/>
<path d="M520.0,297.5 L525.2,300.6" stroke="#16293b" stroke-width="2.4" fill="none" />
<path d="M446.7,398.0 C446.9,400.4 448.0,408.7 447.7,412.7 C447.4,416.7 446.5,418.4 444.6,422.0 C442.7,425.6 438.4,430.4 436.2,434.6 C434.1,438.8 433.2,443.5 432.0,447.0 C430.8,450.5 430.6,453.6 429.0,455.4 C427.4,457.1 424.8,458.4 422.7,457.5 C420.6,456.6 417.5,451.4 416.5,450.2" stroke="#16293b" stroke-width="1.35" fill="none"/>
<path d="M435.2,409.6 L447.7,415.8" stroke="#16293b" stroke-width="1.35" fill="none" />
<path d="M433.1,419.0 L443.5,424.2" stroke="#16293b" stroke-width="1.35" fill="none" />
<path d="M421.7,440.8 L432.0,446.0" stroke="#16293b" stroke-width="1.35" fill="none" />
<path d="M415.4,451.8 L422.7,457.5" stroke="#16293b" stroke-width="1.35" fill="none" />
<path d="M450.8,398.0 C451.0,400.1 451.2,407.8 451.9,410.6 C452.6,413.4 453.4,413.8 455.0,414.8 C456.6,415.9 459.3,416.0 461.2,416.9 C463.2,417.8 465.3,418.1 466.5,420.0 C467.7,421.9 467.5,426.6 468.5,428.3 C469.5,430.0 472.0,430.0 472.7,430.4" stroke="#16293b" stroke-width="1.35" fill="none"/>
<path d="M455.0,413.8 L461.2,416.9" stroke="#16293b" stroke-width="2.4" fill="none" />
<path d="M432.1,276.5 L440.4,282.7 L446.7,278.5 L446.7,270.2 L436.2,263.4" stroke="#16293b" stroke-width="1.35" fill="none" />
<path d="M512.9,413.8 L506.0,421.9 L498.9,429.5 L491.6,436.6 L484.2,443.2 L476.6,449.3 L468.9,454.7 L461.1,459.6 L453.4,463.8 L445.6,467.4 L438.0,470.3 L430.5,472.5 L423.1,474.0 L415.9,474.7 L408.9,474.8 L402.2,474.1 L395.9,472.7 L389.8,470.7 L384.1,467.9" stroke="#16293b" stroke-width="1.35" fill="none" />
<g style="will-change:transform">
<text transform="matrix(0.8660,-0.5000,-0.1400,0.9900,358.7000,96.3000)" font-size="26" textLength="89.5" lengthAdjust="spacingAndGlyphs" fill="#111" stroke="#111" stroke-width="0.5">30 mm</text>
<text transform="matrix(0.8660,-0.5000,-0.1400,0.9900,412.7000,658.7500)" font-size="26" textLength="90.5" lengthAdjust="spacingAndGlyphs" fill="#111" stroke="#111" stroke-width="0.5">85 mm</text>
<text transform="matrix(0.8660,-0.5000,-0.1400,0.9900,407.9000,701.2000)" font-size="26" textLength="104.7" lengthAdjust="spacingAndGlyphs" fill="#111" stroke="#111" stroke-width="0.5">105 mm</text>
<text transform="matrix(0.8660,-0.5000,-0.1400,0.9900,407.9000,741.2000)" font-size="26" textLength="104.7" lengthAdjust="spacingAndGlyphs" fill="#111" stroke="#111" stroke-width="0.5">125 mm</text>
<text transform="matrix(0.8660,-0.5000,-0.1400,0.9900,475.3000,571.5000)" font-size="26" textLength="157.5" lengthAdjust="spacingAndGlyphs" fill="#111" stroke="#111" stroke-width="0.5">Ø 13, 15 mm</text>
<text transform="matrix(0.8704,0.4924,-0.4924,0.8704,89.5000,552.7500)" font-size="26" textLength="99.0" lengthAdjust="spacingAndGlyphs" fill="#111" stroke="#111" stroke-width="0.5">24,5 mm</text>
<text transform="matrix(0.0000,-1.0000,0.8660,-0.5000,212.6000,484.6000)" font-size="26" textLength="90.0" lengthAdjust="spacingAndGlyphs" fill="#111" stroke="#111" stroke-width="0.5">130 mm</text>
<text transform="matrix(0.0000,-1.0000,0.8660,-0.5000,631.0000,215.0000)" font-size="26" textLength="101.6" lengthAdjust="spacingAndGlyphs" fill="#111" stroke="#111" stroke-width="0.5">42,5 mm</text>
<text transform="matrix(0.0000,-1.0000,0.8660,-0.5000,673.5000,313.7500)" font-size="26" textLength="102.0" lengthAdjust="spacingAndGlyphs" fill="#111" stroke="#111" stroke-width="0.5">52,5 mm</text>
<text transform="matrix(0.0000,-1.0000,0.8660,-0.5000,703.3000,327.5000)" font-size="26" textLength="103.0" lengthAdjust="spacingAndGlyphs" fill="#111" stroke="#111" stroke-width="0.5">62,6 mm</text>
</g>
</svg></body></html>
